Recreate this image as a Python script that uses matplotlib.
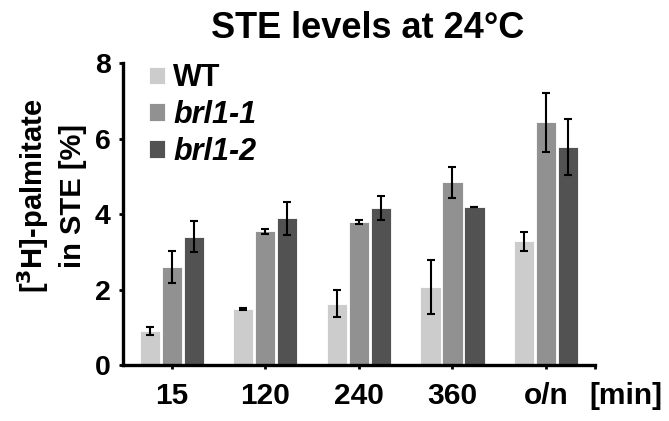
import numpy as np
import matplotlib
matplotlib.use('Agg')
import matplotlib.pyplot as plt

plt.rcParams['font.family'] = ['Liberation Sans', 'DejaVu Sans']
plt.rcParams['font.weight'] = 'bold'

# data
timepoints = ['15', '120', '240', '360', 'o/n']
strains = ['WT', 'brl1-1', 'brl1-2']
wt_mean = [0.91, 1.49, 1.63, 2.06, 3.28]
wt_err = [0.11, 0.02, 0.35, 0.71, 0.25]
brl11_mean = [2.59, 3.54, 3.79, 4.84, 6.43]
brl11_err = [0.42, 0.07, 0.04, 0.41, 0.79]
brl12_mean = [3.40, 3.89, 4.16, 4.19, 5.78]
brl12_err = [0.41, 0.44, 0.31, 0.01, 0.75]
colors = ['#cccccc', '#919191', '#525252']

means = [wt_mean, brl11_mean, brl12_mean]
errs = [wt_err, brl11_err, brl12_err]

fig = plt.figure(figsize=(6.69, 4.21), dpi=100)
ax = fig.add_axes([0.184, 0.133, 0.705, 0.717])

x = np.arange(len(timepoints))
width = 0.215
offsets = [-0.235, 0, 0.235]
for i in range(3):
    ax.bar(x + offsets[i], means[i], width, color=colors[i],
           edgecolor='white', linewidth=0.6, label=strains[i])
    ax.errorbar(x + offsets[i], means[i], yerr=errs[i], fmt='none',
                ecolor='black', elinewidth=1.5, capsize=3, capthick=1.5)

ax.set_xlim(-0.52, 4.52)
ax.set_ylim(0, 8)
ax.set_yticks([0, 2, 4, 6, 8])
ax.set_xticks(x)
ax.set_xticklabels(timepoints)
ax.set_xticks([4.52], minor=True)

for s in ['top', 'right']:
    ax.spines[s].set_visible(False)
for s in ['left', 'bottom']:
    ax.spines[s].set_linewidth(2.4)

ax.tick_params(axis='both', which='both', direction='out', length=3, width=2)
ax.tick_params(axis='x', labelsize=21.5, pad=9)
ax.tick_params(axis='y', labelsize=20.5, pad=6)

fig.text(0.936, 0.059, '[min]', fontsize=21.5, fontweight='bold',
         ha='center', va='center')

fig.text(0.549, 0.91, 'STE levels at 24°C', fontsize=26, fontweight='bold',
         ha='center', va='baseline')

fig.text(0.076, 0.535, '[$^{\\mathbf{3}}$H]-palmitate\nin STE [%]', fontsize=21,
         fontweight='bold', rotation=90, ha='center', va='center',
         multialignment='center', linespacing=1.35)

leg = ax.legend(loc='upper left', bbox_to_anchor=(0.03, 1.04), frameon=False,
                fontsize=22, handlelength=0.5, handleheight=0.5,
                handletextpad=0.28, labelspacing=0.22, borderaxespad=0)
for t in leg.get_texts()[1:]:
    t.set_style('italic')

fig.savefig('out.png', dpi=100)
